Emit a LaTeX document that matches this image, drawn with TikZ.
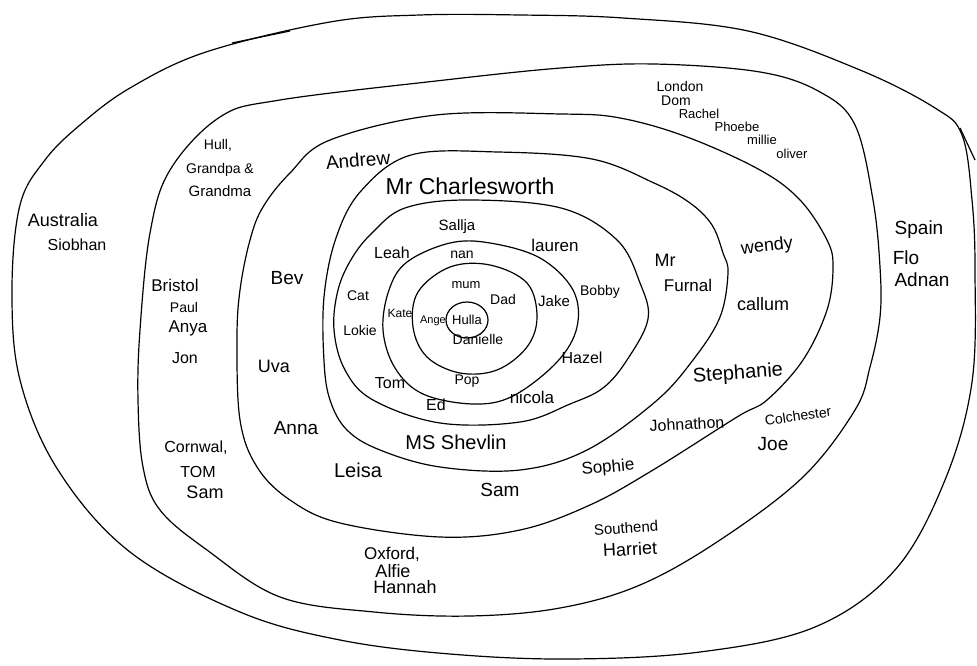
\documentclass[tikz,border=0pt]{standalone}
\usepackage{fontspec}
\setmainfont{Liberation Sans}
\tikzset{
  ring/.style={draw=black, line width=1.2pt, line join=round},
  lb/.style={font=\fontsize{#1}{#1}\selectfont, inner sep=0pt, text=black},
  lb/.default=16
}
\begin{document}
\begin{tikzpicture}[x=1pt,y=-1pt]
\useasboundingbox (0,0) rectangle (977,666);
% C1 outer
\draw[ring] plot[smooth cycle, tension=0.6] coordinates {
 (330,22) (420,15) (520,15) (623,18) (748,31) (860,70) (935,108) (962,135)
 (972,200) (975,270) (972,382) (945,480) (895,570) (815,627) (700,652)
 (570,659) (450,654) (340,640) (240,612) (130,552) (58,470) (20,380)
 (12,290) (20,205) (45,160) (80,125) (130,88) (206,52)};
\draw[ring] (232,43) -- (290,31);
\draw[ring] (960,128) -- (975,160);
% C2
\draw[ring] plot[smooth cycle, tension=0.6] coordinates {
 (280,100) (436,81) (561,68) (654,64) (760,72) (820,92) (855,125) (873,200)
 (880,267) (880,317) (870,367) (855,410) (803,477) (720,540) (640,585)
 (560,608) (470,616) (374,612) (280,597) (207,550) (160,510) (143,467)
 (138,400) (140,330) (150,233) (170,170) (220,117)};
% C3
\draw[ring] plot[smooth cycle, tension=0.6] coordinates {
 (330,140) (436,115) (561,114) (620,118) (687,137) (760,170) (800,200)
 (827,240) (833,267) (827,310) (803,360) (767,400) (737,417) (653,470)
 (590,505) (520,530) (440,537) (340,523) (290,500) (257,467) (240,420)
 (237,340) (240,290) (250,240) (263,207) (290,173)};
% C4
\draw[ring] plot[smooth cycle, tension=0.6] coordinates {
 (411,155) (498,152) (592,159) (654,183) (690,203) (712,225) (723,253)
 (728,273) (720,317) (693,360) (655,402) (587,450) (520,470) (440,467)
 (380,450) (347,430) (330,400) (324,361) (324,297) (336,238) (361,191)};
% C5
\draw[ring] plot[smooth cycle, tension=0.6] coordinates {
 (405,208) (467,200) (561,208) (617,240) (640,283) (648,319) (627,360)
 (603,388) (570,404) (520,422) (440,423) (373,400) (345,370) (334,330)
 (338,290) (352,258) (373,232)};
% C6
\draw[ring] plot[smooth cycle, tension=0.6] coordinates {
 (383,330) (389,290) (407,262) (450,243) (490,243) (540,258) (573,290)
 (577,327) (557,362) (513,396) (473,404) (423,394) (395,368)};
% C7
\draw[ring] plot[smooth cycle, tension=0.6] coordinates {
 (413,327) (418,292) (450,267) (490,265) (527,283) (537,317) (527,347)
 (497,370) (460,373) (427,357)};
% C8 Hulla
\draw[ring] (467,320) ellipse [x radius=21, y radius=18];

% outer ring
\node[lb=18] (australia) at (63,220) {Australia};
\node[lb=16] (siobhan) at (77,245) {Siobhan};
\node[lb=19] (spain) at (919,230) {Spain};
\node[lb=19] (flo) at (906,258) {Flo};
\node[lb=19] (adnan) at (922,280) {Adnan};
% cities ring
\node[lb=14] (london) at (680,86) {London};
\node[lb=14] (dom) at (676,101) {Dom};
\node[lb=13] (rachel) at (699,114) {Rachel};
\node[lb=13] (phoebe) at (737,127) {Phoebe};
\node[lb=13] (millie) at (762,140) {millie};
\node[lb=13] (oliver) at (792,154) {oliver};
\node[lb=14] (hull) at (218,145) {Hull,};
\node[lb=14] (grandpa) at (220,170) {Grandpa \&};
\node[lb=15] (grandma) at (220,191) {Grandma};
\node[lb=17] (bristol) at (175,285) {Bristol};
\node[lb=14] (paul) at (184,307) {Paul};
\node[lb=17] (anya) at (188,328) {Anya};
\node[lb=16] (jon) at (185,358) {Jon};
\node[lb=16] (cornwall) at (196,448) {Cornwal,};
\node[lb=16] (tom2) at (198,472) {TOM};
\node[lb=18] (sam2) at (205,492) {Sam};
\node[lb=17] (oxford) at (392,554) {Oxford,};
\node[lb=18] (alfie) at (393,571) {Alfie};
\node[lb=18] (hannah) at (405,587) {Hannah};
\node[lb=15, rotate=4] (southend) at (626,528) {Southend};
\node[lb=18, rotate=3] (harriet) at (630,549) {Harriet};
\node[lb=14, rotate=8] (colchester) at (798,416) {Colchester};
\node[lb=19] (joe) at (773,444) {Joe};
% Andrew ring
\node[lb=19, rotate=5] (andrew) at (358,160) {Andrew};
\node[lb=19] (bev) at (287,278) {Bev};
\node[lb=18] (uva) at (274,366) {Uva};
\node[lb=19] (anna) at (296,428) {Anna};
\node[lb=20] (leisa) at (358,470) {Leisa};
\node[lb=19] (sam) at (500,490) {Sam};
\node[lb=17, rotate=5] (sophie) at (608,468) {Sophie};
\node[lb=16, rotate=3] (johnathon) at (687,424) {Johnathon};
\node[lb=20, rotate=4] (stephanie) at (738,374) {Stephanie};
\node[lb=18, rotate=6] (wendy) at (767,247) {wendy};
\node[lb=18] (callum) at (763,304) {callum};
% Mr Charlesworth ring
\node[lb=23] (charlesworth) at (470,186) {Mr Charlesworth};
\node[lb=18] (mr) at (665,260) {Mr};
\node[lb=17] (furnal) at (688,285) {Furnal};
\node[lb=20] (shevlin) at (456,442) {MS Shevlin};
% Sallja ring
\node[lb=15] (sallja) at (457,227) {Sallja};
\node[lb=16] (leah) at (392,253) {Leah};
\node[lb=17] (lauren) at (555,245) {lauren};
\node[lb=14] (bobby) at (600,292) {Bobby};
\node[lb=16] (hazel) at (582,358) {Hazel};
\node[lb=17] (nicola) at (532,397) {nicola};
\node[lb=16] (ed) at (436,405) {Ed};
\node[lb=16] (tom) at (390,383) {Tom};
\node[lb=14] (lokie) at (360,330) {Lokie};
\node[lb=14] (cat) at (358,296) {Cat};
% nan ring
\node[lb=14] (nan) at (462,255) {nan};
\node[lb=12] (kate) at (400,313) {Kate};
\node[lb=15] (jake) at (554,301) {Jake};
\node[lb=14] (pop) at (467,381) {Pop};
% mum ring
\node[lb=13] (mum) at (466,285) {mum};
\node[lb=14] (dad) at (503,299) {Dad};
\node[lb=14] (danielle) at (478,339) {Danielle};
\node[lb=11] (ange) at (433,321) {Ange};
% centre
\node[lb=13] (hulla) at (467,320) {Hulla};
\end{tikzpicture}
\end{document}
